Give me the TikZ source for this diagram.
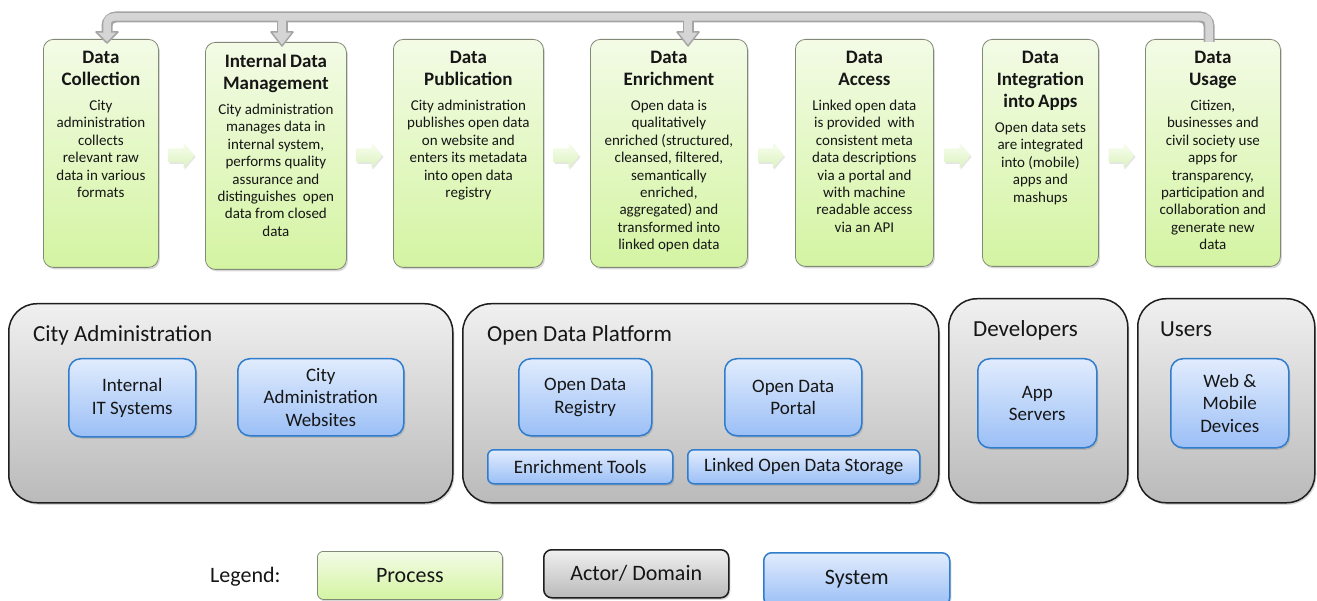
\documentclass[tikz,border=0pt]{standalone}
\usepackage{fontspec}
\setmainfont{Carlito}
\usetikzlibrary{shadows,calc}
\setlength\parindent{0pt}

\definecolor{procTop}{RGB}{243,251,230}
\definecolor{procBot}{RGB}{212,244,162}
\definecolor{procLine}{RGB}{128,138,118}
\definecolor{actTop}{RGB}{240,240,240}
\definecolor{actBot}{RGB}{186,186,186}
\definecolor{actLine}{RGB}{30,30,30}
\definecolor{sysTop}{RGB}{225,236,253}
\definecolor{sysBot}{RGB}{155,191,246}
\definecolor{sysLine}{RGB}{48,124,205}
\definecolor{arrOut}{RGB}{165,165,165}
\definecolor{arrIn}{RGB}{213,213,213}
\definecolor{garTop}{RGB}{248,253,240}
\definecolor{garBot}{RGB}{220,243,190}
\definecolor{txt}{RGB}{22,22,22}

\newcommand\ttl[1]{{\fontsize{19}{22}\selectfont\bfseries #1\par}}
\newcommand\bdy[1]{\vspace{8pt}{\fontsize{15}{17.4}\selectfont #1\par}}

\tikzset{
  shd/.style={drop shadow={shadow xshift=1.5pt, shadow yshift=-2pt, opacity=0.3}},
  procbox/.style={draw=procLine, line width=0.8, rounded corners=10,
    top color=procTop, bottom color=procBot, shd, anchor=north west, inner sep=0},
  ptext/.style={inner sep=0, align=center, text width=170, text=txt, anchor=north},
  actbox/.style={draw=actLine, line width=1.5, rounded corners=28,
    top color=actTop, bottom color=actBot, shd, anchor=north west, inner sep=0},
  acttext/.style={anchor=base west, inner sep=0, text=txt, font=\fontsize{23}{26}\selectfont},
  sysbox/.style={draw=sysLine, line width=1.5, rounded corners=12,
    top color=sysTop, bottom color=sysBot, shd, anchor=north west, inner sep=0,
    align=center, text=txt, font=\fontsize{19}{22.5}\selectfont},
  garrow/.style={top color=garTop, bottom color=garBot, draw=none,
    drop shadow={shadow xshift=1pt, shadow yshift=-1.5pt, opacity=0.2}},
  fbout/.style={draw=arrOut, line width=11, rounded corners=9},
  fbin/.style={draw=arrIn, line width=7.5, rounded corners=7},
  fbhead/.style={draw=arrOut, fill=arrIn, line width=1.5, line join=round},
}

\begin{document}
\begin{tikzpicture}[x=1pt,y=-1pt]
\fill[white] (0,0) rectangle (1317,601);
\useasboundingbox (0,0) rectangle (1317,601);

% ---------- process boxes ----------
\node[procbox, minimum width=115, minimum height=228] (p1) at (43,39) {};
\node[procbox, minimum width=141, minimum height=227] (p2) at (205,42) {};
\node[procbox, minimum width=150, minimum height=228] (p3) at (393,39) {};
\node[procbox, minimum width=157, minimum height=228] (p4) at (590,39) {};
\node[procbox, minimum width=138, minimum height=227] (p5) at (795,39) {};
\node[procbox, minimum width=116, minimum height=227] (p6) at (982,39) {};
\node[procbox, minimum width=135, minimum height=227] (p7) at (1145,39) {};

\node[ptext] (p1t) at ($(p1.north)+(0,11.5)$) {\ttl{Data\\Collection}\bdy{City\\administration\\collects\\relevant raw\\data in various\\formats}};
\node[ptext] (p2t) at ($(p2.north)+(0,11.5)$) {\ttl{Internal Data\\Management}\bdy{City administration\\manages data in\\internal system,\\performs quality\\assurance and\\distinguishes~ open\\data from closed\\data}};
\node[ptext] (p3t) at ($(p3.north)+(0,11.5)$) {\ttl{Data\\Publication}\bdy{City administration\\publishes open data\\on website and\\enters its metadata\\into open data\\registry}};
\node[ptext] (p4t) at ($(p4.north)+(0,11.5)$) {\ttl{Data\\Enrichment}\bdy{Open data is\\qualitatively\\enriched (structured,\\cleansed, filtered,\\semantically\\enriched,\\aggregated) and\\transformed into\\linked open data}};
\node[ptext] (p5t) at ($(p5.north)+(0,11.5)$) {\ttl{Data\\Access}\bdy{Linked open data\\is provided~ with\\consistent meta\\data descriptions\\via a portal and\\with machine\\readable access\\via an API}};
\node[ptext] (p6t) at ($(p6.north)+(0,11.5)$) {\ttl{Data\\Integration\\into Apps}\bdy{Open data sets\\are integrated\\into (mobile)\\apps and\\mashups}};
\node[ptext] (p7t) at ($(p7.north)+(0,11.5)$) {\ttl{Data\\Usage}\bdy{Citizen,\\businesses and\\civil society use\\apps for\\transparency,\\participation and\\collaboration and\\generate new\\data}};

% ---------- small green arrows between process boxes ----------
\foreach \n/\cx in {a12/181.5, a23/369.5, a34/566.5, a45/771, a56/957.5, a67/1121.5}{
  \coordinate (\n) at (\cx,155.5);
  \path[garrow] ($(\n)+(-13,-7)$) -- ++(15,0) -- ++(0,-6) -- ++(11,13)
     -- ++(-11,13) -- ++(0,-6) -- ++(-15,0) -- cycle;
}

% ---------- feedback arrow on top ----------
\coordinate (f7) at ($(p7.north west)+(64,3)$);
\coordinate (fR) at ($(f7)+(0,-25)$);
\coordinate (f1) at (107,32);
\coordinate (fL) at (107,17);
\coordinate (f2) at (282,32);
\coordinate (f2t) at (282,17);
\coordinate (f4) at (688,32);
\coordinate (f4t) at (688,17);

\draw[fbout] (f7) -- (fR) -- (fL) -- (f1);
\draw[fbout] (f2t) -- (f2);
\draw[fbout] (f4t) -- (f4);
\draw[fbhead] ($(f1)+(-11,0)$) -- ($(f1)+(11,0)$) -- ($(f1)+(0,11)$) -- cycle;
\draw[fbhead] ($(f2)+(-11,0)$) -- ($(f2)+(11,0)$) -- ($(f2)+(0,14)$) -- cycle;
\draw[fbhead] ($(f4)+(-11,0)$) -- ($(f4)+(11,0)$) -- ($(f4)+(0,14)$) -- cycle;
\draw[fbin] (f7) -- (fR) -- (fL) -- ($(f1)+(0,1)$);
\draw[fbin] (f2t) -- ($(f2)+(0,1)$);
\draw[fbin] (f4t) -- ($(f4)+(0,1)$);

% ---------- actor / domain boxes ----------
\node[actbox, minimum width=444, minimum height=199] (ca) at (8,303) {};
\node[actbox, minimum width=476, minimum height=199] (odp) at (462,303) {};
\node[actbox, minimum width=179, minimum height=204] (dev) at (948,298) {};
\node[actbox, minimum width=177, minimum height=204] (usr) at (1137,298) {};

\node[acttext] (cat) at (33,342) {City Administration};
\node[acttext] (odpt) at (487,342) {Open Data Platform};
\node[acttext] (devt) at (973,337) {Developers};
\node[acttext] (usrt) at (1160,337) {Users};

% ---------- system boxes ----------
\node[sysbox, minimum width=127, minimum height=78] (s1) at (68,358) {Internal\\IT Systems};
\node[sysbox, minimum width=166, minimum height=77] (s2) at (237,358) {City\\Administration\\Websites};
\node[sysbox, minimum width=133, minimum height=77] (s3) at (518,358) {Open Data\\Registry};
\node[sysbox, minimum width=137, minimum height=77] (s4) at (724,358) {Open Data\\Portal};
\node[sysbox, rounded corners=6, minimum width=185, minimum height=34] (s5) at (487,449) {Enrichment Tools};
\node[sysbox, rounded corners=6, minimum width=232, minimum height=34] (s6) at (687,449) {Linked Open Data Storage};
\node[sysbox, minimum width=119, minimum height=89] (s7) at (977,358) {App\\Servers};
\node[sysbox, minimum width=118, minimum height=89] (s8) at (1170,358) {Web \&\\Mobile\\Devices};

% ---------- legend ----------
\node[anchor=base west, inner sep=0, text=txt, font=\fontsize{22}{26}\selectfont] (lg) at (210,582) {Legend:};
\node[procbox, rounded corners=6, minimum width=185, minimum height=48,
      text=txt, font=\fontsize{22}{26}\selectfont] (lp) at (317,551) {Process};
\node[actbox, rounded corners=8, minimum width=185, minimum height=48,
      text=txt, font=\fontsize{22}{26}\selectfont] (la) at (543,549) {Actor/ Domain};
\node[sysbox, rounded corners=8, minimum width=186, minimum height=53,
      font=\fontsize{22}{26}\selectfont] (ls) at (763,552) {System};
\end{tikzpicture}
\end{document}
